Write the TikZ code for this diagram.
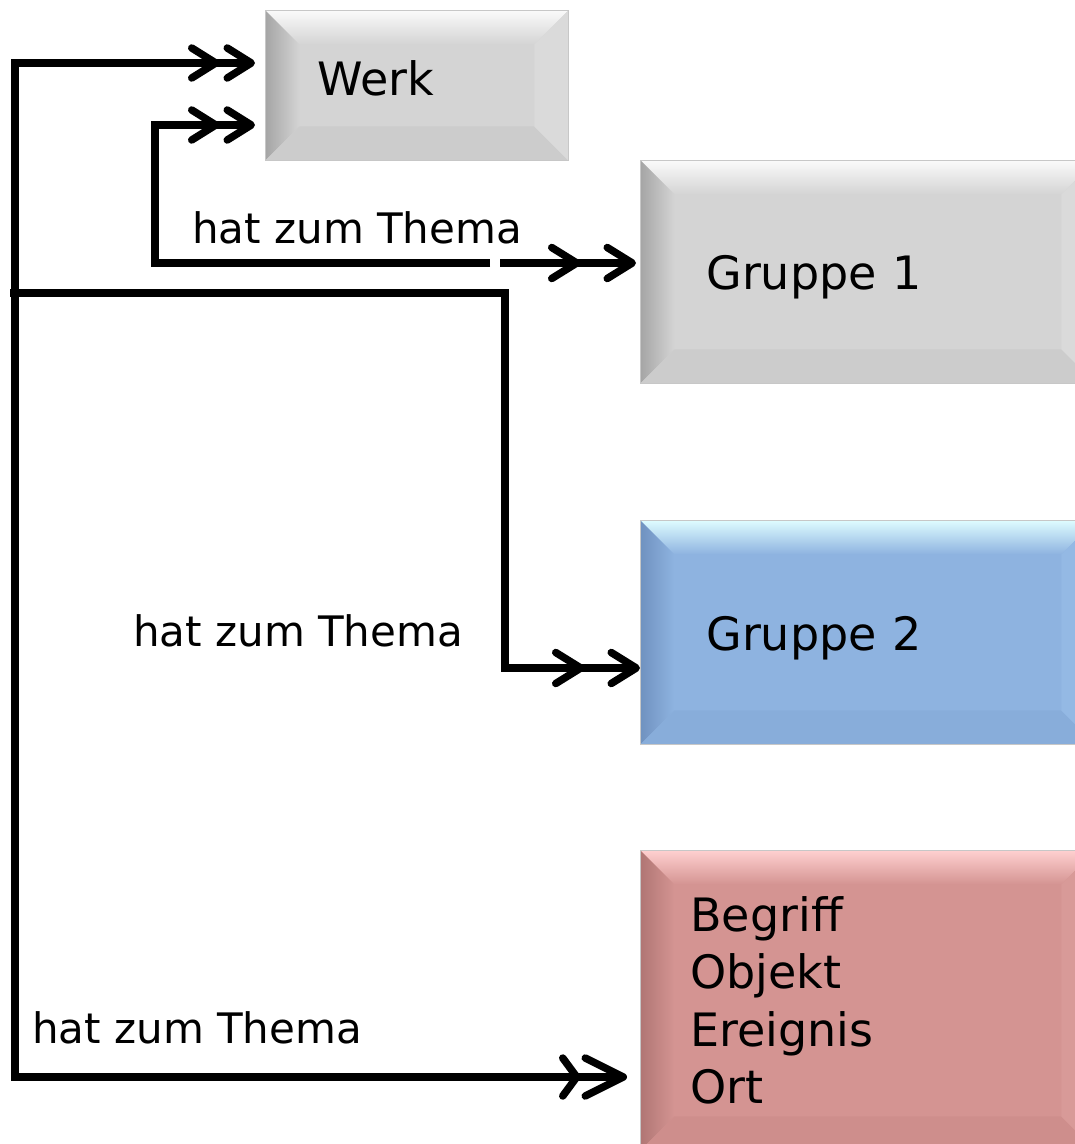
\documentclass[tikz,border=0pt]{standalone}
\usepackage{fontspec}
\setmainfont{DejaVu Sans}
\usetikzlibrary{arrows.meta,calc}
\definecolor{gBase}{RGB}{212,212,212}
\definecolor{gTop}{RGB}{250,250,250}
\definecolor{gLeft}{RGB}{165,165,165}
\definecolor{gBot}{RGB}{204,204,204}
\definecolor{gRight}{RGB}{218,218,218}
\definecolor{bBase}{RGB}{142,179,224}
\definecolor{bTop}{RGB}{222,252,255}
\definecolor{bLeft}{RGB}{112,146,192}
\definecolor{bBot}{RGB}{136,173,218}
\definecolor{bRight}{RGB}{148,185,228}
\definecolor{rBase}{RGB}{212,148,146}
\definecolor{rTop}{RGB}{255,208,208}
\definecolor{rLeft}{RGB}{176,118,116}
\definecolor{rBot}{RGB}{206,142,140}
\definecolor{rRight}{RGB}{216,154,152}
\tikzset{
  bevel/.style n args={5}{fill=#1, draw=black!22, line width=0.8pt,
    path picture={
      \coordinate (pNW) at (path picture bounding box.north west);
      \coordinate (pNE) at (path picture bounding box.north east);
      \coordinate (pSW) at (path picture bounding box.south west);
      \coordinate (pSE) at (path picture bounding box.south east);
      \coordinate (qNW) at ($(pNW)+(34,34)$);
      \coordinate (qNE) at ($(pNE)+(-34,34)$);
      \coordinate (qSW) at ($(pSW)+(34,-34)$);
      \coordinate (qSE) at ($(pSE)+(-34,-34)$);
      \shade[top color=#2, bottom color=#1] (pNW) -- (pNE) -- (qNE) -- (qNW) -- cycle;
      \shade[left color=#3, right color=#1] (pNW) -- (qNW) -- (qSW) -- (pSW) -- cycle;
      \fill[#4] (pSW) -- (qSW) -- (qSE) -- (pSE) -- cycle;
      \fill[#5] (pNE) -- (qNE) -- (qSE) -- (pSE) -- cycle;
    }},
  box/.style={anchor=north west, align=left, inner ysep=0pt,
    font=\fontsize{46}{57.5}\selectfont},
  graybox/.style={box, bevel={gBase}{gTop}{gLeft}{gBot}{gRight}},
  bluebox/.style={box, bevel={bBase}{bTop}{bLeft}{bBot}{bRight}},
  redbox/.style={box, bevel={rBase}{rTop}{rLeft}{rBot}{rRight}},
  lbl/.style={anchor=base west, inner sep=0pt, font=\fontsize{42}{50}\selectfont},
  conn/.style={line width=7.5pt, line join=miter, draw=black},
  dblW/.tip={Straight Barb[length=24pt,width=30pt,round,sep=4pt] Straight Barb[length=24pt,width=30pt,round,sep=0pt]},
  dblG/.tip={Straight Barb[length=25pt,width=31pt,round,sep=23pt] Straight Barb[length=25pt,width=31pt,round,sep=0pt]},
  dblR/.tip={Straight Barb[length=14pt,width=38pt,round,sep=1pt] Straight Barb[length=38pt,width=38pt,round,sep=0pt]},
}
\begin{document}
\begin{tikzpicture}[x=1pt,y=-1pt]
\useasboundingbox (0,0) rectangle (1075,1144);
% boxes
\node[graybox, minimum width=303pt, minimum height=150pt, inner xsep=52pt, text width=199pt, text depth=14pt] (werk) at (265,10) {Werk};
\node[graybox, minimum width=455pt, minimum height=223pt, inner xsep=66pt, text width=323pt, text height=44pt] (gr1) at (640,160) {Gruppe 1};
\node[bluebox, minimum width=455pt, minimum height=224pt, inner xsep=66pt, text width=323pt, text height=46pt] (gr2) at (640,520) {Gruppe 2};
\node[redbox, minimum width=455pt, minimum height=300pt, inner xsep=50pt, text width=355pt] (red) at (640,850) {Begriff\\Objekt\\Ereignis\\Ort};
% labels
\node[lbl] (l1) at (192,243) {hat zum Thema};
\node[lbl] (l2) at (133,646) {hat zum Thema};
\node[lbl] (l3) at (32,1043) {hat zum Thema};
% helper coordinates
\coordinate (tTop) at (15,63);
\coordinate (tBot) at (15,1077);
\coordinate (k1) at (155,125);
\coordinate (k2) at (155,263);
\coordinate (g1a) at (490,263);
\coordinate (g1b) at (500,263);
\coordinate (k3) at (10,293);
\coordinate (k4) at (505,293);
\coordinate (k5) at (505,668);
% connectors
\draw[conn, {dblR}-{dblW}, shorten <=13pt, shorten >=10pt]
  (red.west |- tBot) -- (tBot) -- (tTop) -- (werk.west |- tTop);
\draw[conn, -{dblW}, shorten >=10pt] (g1a) -- (k2) -- (k1) -- (werk.west |- k1);
\draw[conn, -{dblG}, shorten >=4pt] (g1b) -- (gr1.west |- g1b);
\draw[conn, -{dblG}] (k3) -- (k4) -- (k5) -- (gr2.west |- k5);
\end{tikzpicture}
\end{document}
